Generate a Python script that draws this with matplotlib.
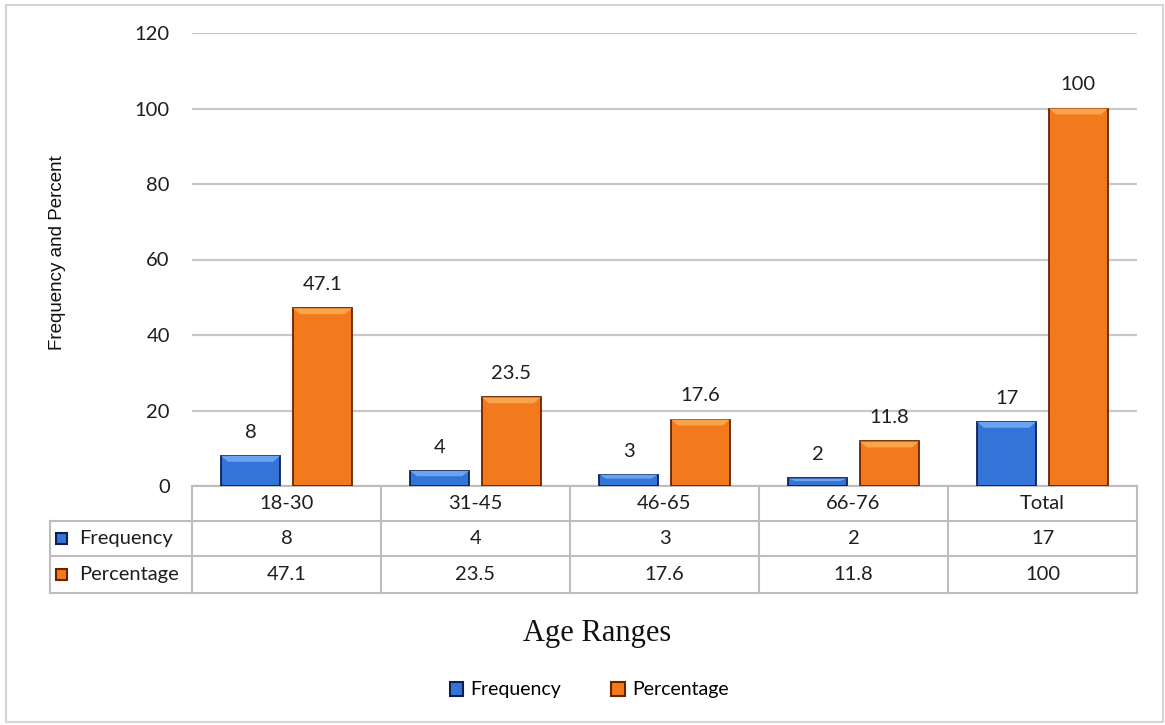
import matplotlib
matplotlib.use('agg')
import matplotlib.pyplot as plt  # noqa: E402
import matplotlib.transforms as mtransforms  # noqa: E402
from matplotlib.patches import Polygon, Rectangle, Patch  # noqa: E402

# data
categories = ['18-30', '31-45', '46-65', '66-76', 'Total']
frequency = [8, 4, 3, 2, 17]
percentage = [47.1, 23.5, 17.6, 11.8, 100]
freq_labels = ['8', '4', '3', '2', '17']
pct_labels = ['47.1', '23.5', '17.6', '11.8', '100']
series_names = ['Frequency', 'Percentage']

W, H = 1165, 725
plt.rcParams['font.family'] = ['Lato', 'DejaVu Sans']

blue = '#3474d8'
blue_top = '#6aa4ee'
blue_edge = '#0e1f52'
orange = '#f27a1c'
orange_top = '#f9a44a'
orange_edge = '#6a2200'
grid_c = '#c8c8c8'
tab_c = '#bdbdbd'
txt_c = '#1e1e1e'
fs = 14.5

fig = plt.figure(figsize=(W / 100, H / 100), dpi=100)
# outer chart frame
fig.patches.append(Rectangle((6 / W, 3 / H), (W - 8) / W, (H - 8) / H,
                             transform=fig.transFigure, fill=False,
                             edgecolor='#d4d4d4', linewidth=1.5))

ax = fig.add_axes([192 / W, 1 - 486 / H, (1137 - 192) / W, (486 - 33) / H])
ax.set_xlim(-0.5, len(categories) - 0.5)
ax.set_ylim(0, 120)
ax.set_yticks(range(0, 121, 20))
ax.tick_params(axis='y', length=0, pad=16, labelsize=fs, colors=txt_c)
ax.set_xticks([])
for s in ax.spines.values():
    s.set_visible(False)
ax.grid(axis='y', color=grid_c, linewidth=1.6)
ax.set_axisbelow(True)

bw = 0.312
off = 0.19
x = list(range(len(categories)))
px_per_y = 453 / 120.0
px_per_x = 189.0


def fy(py):
    return 1 - py / H


def draw_bars(xs, vals, face, top, edge):
    bars = ax.bar(xs, vals, width=bw, color=face, edgecolor=edge,
                  linewidth=1.3, zorder=3)
    for b in bars:
        bx, by, bwid, bh = b.get_x(), b.get_y(), b.get_width(), b.get_height()
        bev_h = min(6 / px_per_y, bh * 0.35)
        ins = 7 / px_per_x
        poly = Polygon([(bx, by + bh), (bx + bwid, by + bh),
                        (bx + bwid - ins, by + bh - bev_h),
                        (bx + ins, by + bh - bev_h)],
                       closed=True, facecolor=top, edgecolor='none',
                       zorder=4)
        ax.add_patch(poly)
    return bars


draw_bars([i - off for i in x], frequency, blue, blue_top, blue_edge)
draw_bars([i + off for i in x], percentage, orange, orange_top, orange_edge)

for i in x:
    ax.annotate(freq_labels[i], (i - off, frequency[i]), xytext=(0, 17),
                textcoords='offset points', ha='center', va='center',
                fontsize=fs, color=txt_c, zorder=5)
    ax.annotate(pct_labels[i], (i + off, percentage[i]), xytext=(0, 17),
                textcoords='offset points', ha='center', va='center',
                fontsize=fs, color=txt_c, zorder=5)

ax.set_ylabel('Frequency and Percent', fontsize=13.5, color='#111111',
              family='Liberation Sans')
ax.yaxis.set_label_coords(66 / W, fy(253), transform=fig.transFigure)

# data table under the plot
tr = mtransforms.blended_transform_factory(ax.transData, fig.transFigure)

rows_y = [486, 521, 556, 593]
left_x = 50 / W
n = len(categories)
# horizontal lines over the category columns
for py in rows_y:
    ax.plot([-0.5, n - 0.5], [fy(py)] * 2, transform=tr, color=tab_c,
            linewidth=1.5, clip_on=False)
# horizontal lines of the row header column
for py in rows_y[1:]:
    fig.add_artist(plt.Line2D([left_x, 192 / W], [fy(py)] * 2,
                              color=tab_c, linewidth=1.5))
fig.add_artist(plt.Line2D([left_x, left_x], [fy(521), fy(593)],
                          color=tab_c, linewidth=1.5))
for k in range(n + 1):
    ax.plot([k - 0.5, k - 0.5], [fy(486), fy(593)], transform=tr,
            color=tab_c, linewidth=1.5, clip_on=False)

row_vals = [freq_labels, pct_labels]
row_mid = [(521 + 556) / 2, (556 + 593) / 2]
for i in x:
    ax.text(i, fy((486 + 521) / 2), categories[i], transform=tr,
            ha='center', va='center', fontsize=fs, color=txt_c)
    for r in range(2):
        ax.text(i, fy(row_mid[r]), row_vals[r][i], transform=tr,
                ha='center', va='center', fontsize=fs, color=txt_c)

for r, (name, col, ed) in enumerate(zip(series_names, [blue, orange],
                                        [blue_edge, orange_edge])):
    sz = 11
    fig.patches.append(Rectangle(((61 - sz / 2) / W, fy(row_mid[r] + sz / 2)),
                                 sz / W, sz / H, transform=fig.transFigure,
                                 facecolor=col, edgecolor=ed, linewidth=1.5))
    fig.text(79 / W, fy(row_mid[r]), name, ha='left', va='center',
             fontsize=fs, color=txt_c)

fig.text(597 / W, fy(634), 'Age Ranges', ha='center', va='center',
         fontsize=22, family='Liberation Serif', color='#111111')

handles = [Patch(facecolor=blue, edgecolor=blue_edge, linewidth=1.5),
           Patch(facecolor=orange, edgecolor=orange_edge, linewidth=1.5)]
fig.legend(handles, series_names, loc='center', ncol=2, frameon=False,
           bbox_to_anchor=(589 / W, fy(690)), fontsize=14,
           handlelength=0.7, handleheight=0.7, handletextpad=0.35,
           columnspacing=2.6)

plt.savefig('out.png', dpi=100)
